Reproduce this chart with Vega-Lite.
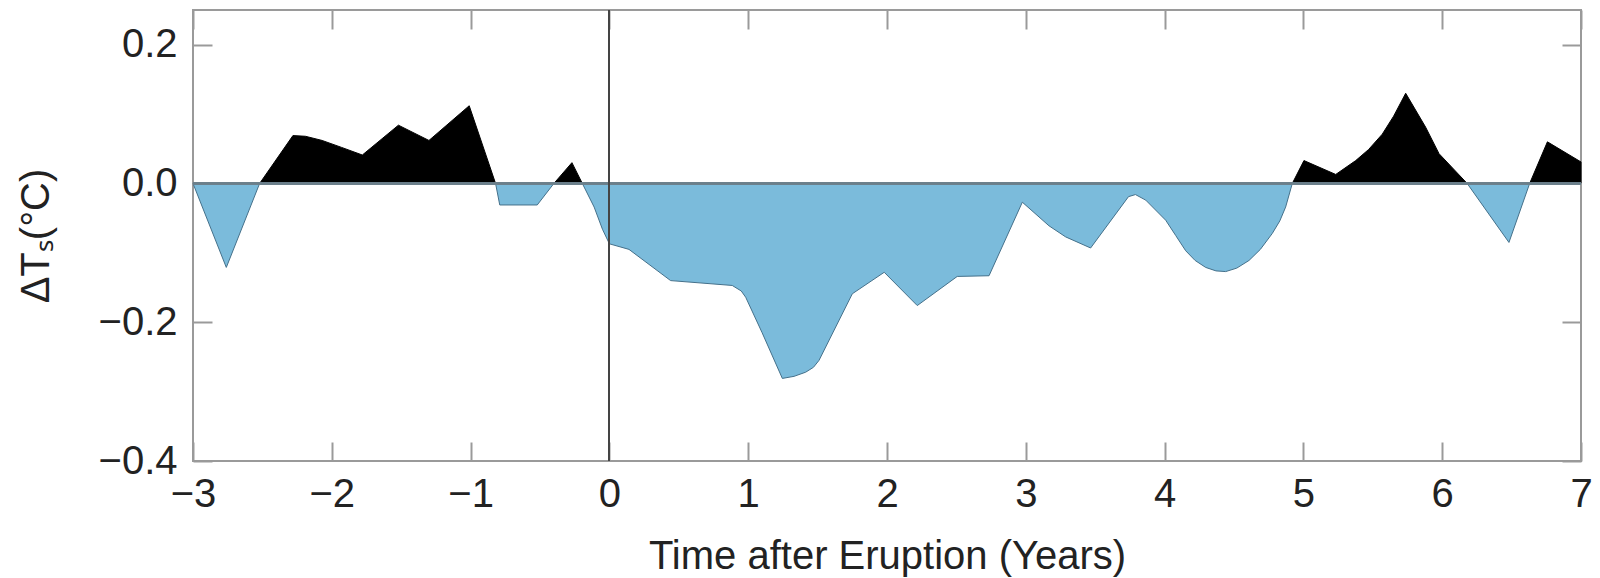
{
  "$schema": "https://vega.github.io/schema/vega-lite/v6.json",
  "width": 1388,
  "height": 451,
  "autosize": {"type": "none"},
  "padding": {"left": 193, "top": 10, "right": 19, "bottom": 117},
  "background": "white",
  "config": {
    "view": {"stroke": "#9a9a9a", "strokeWidth": 2},
    "axis": {
      "labelFont": "Liberation Sans",
      "titleFont": "Liberation Sans",
      "labelFontSize": 40,
      "titleFontSize": 40,
      "labelColor": "#222222",
      "titleColor": "#222222",
      "titleFontWeight": "normal",
      "domain": false,
      "grid": false,
      "tickColor": "#9a9a9a",
      "tickWidth": 2
    }
  },
  "data": {
    "values": [
      {"t": -3.0, "v": 0},
      {"t": -2.76, "v": -0.121},
      {"t": -2.52, "v": 0},
      {"t": -2.28, "v": 0.069},
      {"t": -2.19, "v": 0.068},
      {"t": -2.07, "v": 0.062},
      {"t": -1.93, "v": 0.052},
      {"t": -1.78, "v": 0.041},
      {"t": -1.52, "v": 0.084},
      {"t": -1.30, "v": 0.062},
      {"t": -1.01, "v": 0.112},
      {"t": -0.82, "v": 0},
      {"t": -0.79, "v": -0.031},
      {"t": -0.52, "v": -0.031},
      {"t": -0.40, "v": 0},
      {"t": -0.27, "v": 0.030},
      {"t": -0.195, "v": 0},
      {"t": -0.11, "v": -0.034},
      {"t": -0.05, "v": -0.066},
      {"t": 0.0, "v": -0.087},
      {"t": 0.141, "v": -0.095},
      {"t": 0.441, "v": -0.140},
      {"t": 0.885, "v": -0.147},
      {"t": 0.95, "v": -0.155},
      {"t": 0.982, "v": -0.164},
      {"t": 1.1, "v": -0.215},
      {"t": 1.246, "v": -0.281},
      {"t": 1.33, "v": -0.278},
      {"t": 1.414, "v": -0.272},
      {"t": 1.47, "v": -0.265},
      {"t": 1.51, "v": -0.255},
      {"t": 1.75, "v": -0.159},
      {"t": 1.98, "v": -0.128},
      {"t": 2.218, "v": -0.176},
      {"t": 2.506, "v": -0.134},
      {"t": 2.735, "v": -0.133},
      {"t": 2.975, "v": -0.027},
      {"t": 3.167, "v": -0.061},
      {"t": 3.287, "v": -0.077},
      {"t": 3.467, "v": -0.093},
      {"t": 3.74, "v": -0.019},
      {"t": 3.79, "v": -0.016},
      {"t": 3.864, "v": -0.024},
      {"t": 4.008, "v": -0.053},
      {"t": 4.08, "v": -0.075},
      {"t": 4.152, "v": -0.097},
      {"t": 4.22, "v": -0.111},
      {"t": 4.296, "v": -0.121},
      {"t": 4.37, "v": -0.126},
      {"t": 4.44, "v": -0.127},
      {"t": 4.52, "v": -0.122},
      {"t": 4.608, "v": -0.111},
      {"t": 4.69, "v": -0.095},
      {"t": 4.776, "v": -0.072},
      {"t": 4.83, "v": -0.054},
      {"t": 4.872, "v": -0.034},
      {"t": 4.92, "v": 0},
      {"t": 5.004, "v": 0.033},
      {"t": 5.233, "v": 0.013},
      {"t": 5.377, "v": 0.033},
      {"t": 5.47, "v": 0.049},
      {"t": 5.568, "v": 0.071},
      {"t": 5.65, "v": 0.097},
      {"t": 5.737, "v": 0.130},
      {"t": 5.881, "v": 0.081},
      {"t": 5.977, "v": 0.043},
      {"t": 6.18, "v": 0},
      {"t": 6.481, "v": -0.085},
      {"t": 6.63, "v": 0},
      {"t": 6.758, "v": 0.060},
      {"t": 7.0, "v": 0.031}
    ]
  },
  "layer": [
    {
      "mark": {
        "type": "area",
        "interpolate": "linear",
        "fill": {
          "gradient": "linear",
          "x1": 0, "y1": 0, "x2": 0, "y2": 1,
          "stops": [
            {"offset": 0, "color": "#000000"},
            {"offset": 0.3163, "color": "#000000"},
            {"offset": 0.3163, "color": "#7bbbdb"},
            {"offset": 1, "color": "#7bbbdb"}
          ]
        },
        "stroke": {
          "gradient": "linear",
          "x1": 0, "y1": 0, "x2": 0, "y2": 1,
          "stops": [
            {"offset": 0, "color": "#000000"},
            {"offset": 0.3163, "color": "#000000"},
            {"offset": 0.3163, "color": "#44708a"},
            {"offset": 1, "color": "#44708a"}
          ]
        },
        "strokeWidth": 1,
        "fillOpacity": 1
      },
      "encoding": {
        "x": {
          "field": "t", "type": "quantitative",
          "scale": {"domain": [-3, 7], "nice": false, "zero": false},
          "axis": {
            "orient": "bottom",
            "values": [-3, -2, -1, 0, 1, 2, 3, 4, 5, 6, 7],
            "format": "d",
            "tickSize": -19,
            "labelPadding": 32,
            "labelFlush": false,
            "title": "Time after Eruption (Years)",
            "titleX": 694,
            "titleY": 107,
            "titleBaseline": "alphabetic",
            "titleAnchor": null
          }
        },
        "y": {
          "field": "v", "type": "quantitative",
          "scale": {"domain": [-0.4, 0.25], "nice": false, "zero": false},
          "axis": {
            "orient": "left",
            "values": [-0.4, -0.2, 0, 0.2],
            "format": ".1f",
            "tickSize": -19,
            "labelPadding": 35,
            "labelFlush": false,
            "title": "ΔTₛ(°C)",
            "titleAngle": -90,
            "titleX": -157,
            "titleY": 225.5,
            "titleAlign": "center",
            "titleBaseline": "middle"
          }
        },
        "y2": {"datum": 0}
      }
    },
    {
      "mark": {"type": "rule", "color": "#6b7f8a", "strokeWidth": 1.5},
      "encoding": {
        "y": {"datum": 0, "type": "quantitative", "axis": {
          "orient": "right",
          "values": [-0.4, -0.2, 0, 0.2],
          "labels": false,
          "tickSize": -19,
          "title": null
        }},
        "x": {"datum": -3, "type": "quantitative", "axis": {
          "orient": "top",
          "values": [-3, -2, -1, 0, 1, 2, 3, 4, 5, 6, 7],
          "labels": false,
          "tickSize": -19,
          "title": null
        }},
        "x2": {"datum": 7}
      }
    },
    {
      "mark": {"type": "rule", "color": "#444444", "strokeWidth": 1.2},
      "encoding": {
        "x": {"datum": 0, "type": "quantitative", "axis": null}
      }
    }
  ],
  "resolve": {"axis": {"x": "independent", "y": "independent"}}
}
